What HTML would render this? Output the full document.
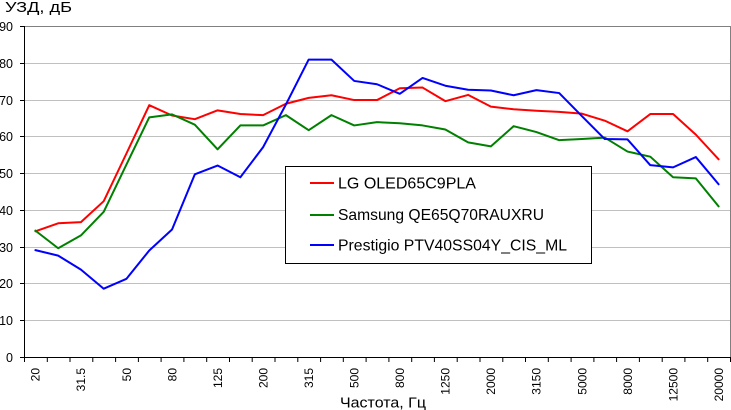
<!DOCTYPE html>
<html>
<head>
<meta charset="utf-8">
<style>
  html, body { margin: 0; padding: 0; background: #ffffff; }
  svg { display: block; }
  text { font-family: "Liberation Sans", "DejaVu Sans", sans-serif; fill: #000; }
</style>
</head>
<body>
<svg width="731" height="410" viewBox="0 0 731 410" xmlns="http://www.w3.org/2000/svg">
  <rect x="0" y="0" width="731" height="410" fill="#ffffff"/>

  <!-- gridlines -->
  <g stroke="#c0c0c0" stroke-width="1" fill="none">
    <line x1="24" y1="63.5" x2="730" y2="63.5"/>
    <line x1="24" y1="100.5" x2="730" y2="100.5"/>
    <line x1="24" y1="136.5" x2="730" y2="136.5"/>
    <line x1="24" y1="173.5" x2="730" y2="173.5"/>
    <line x1="24" y1="210.5" x2="730" y2="210.5"/>
    <line x1="24" y1="247.5" x2="730" y2="247.5"/>
    <line x1="24" y1="283.5" x2="730" y2="283.5"/>
    <line x1="24" y1="320.5" x2="730" y2="320.5"/>
  </g>
  <!-- plot border top/right -->
  <path d="M24 26.5 H730.5 V357.5" stroke="#808080" stroke-width="1" fill="none"/>

  <!-- axes -->
  <g stroke="#000" stroke-width="1" fill="none">
    <line x1="24.5" y1="26" x2="24.5" y2="358"/>
    <line x1="24" y1="357.5" x2="731" y2="357.5"/>
    <!-- y ticks -->
    <path d="M20 26.5H24 M20 63.5H24 M20 100.5H24 M20 136.5H24 M20 173.5H24 M20 210.5H24 M20 247.5H24 M20 283.5H24 M20 320.5H24 M20 357.5H24"/>
    <!-- x ticks -->
    <path d="M24.5 357v5 M47.3 357v5 M70 357v5 M92.8 357v5 M115.6 357v5 M138.4 357v5 M161.1 357v5 M183.9 357v5 M206.7 357v5 M229.5 357v5 M252.2 357v5 M275 357v5 M297.8 357v5 M320.6 357v5 M343.3 357v5 M366.1 357v5 M388.9 357v5 M411.7 357v5 M434.4 357v5 M457.2 357v5 M480 357v5 M502.8 357v5 M525.5 357v5 M548.3 357v5 M571.1 357v5 M593.9 357v5 M616.6 357v5 M639.4 357v5 M662.2 357v5 M684.9 357v5 M707.7 357v5 M730.5 357v5"/>
  </g>

  <!-- y labels -->
  <g font-size="12.5" text-anchor="end">
    <text x="13" y="30.8">90</text>
    <text x="13" y="67.8">80</text>
    <text x="13" y="104.8">70</text>
    <text x="13" y="140.8">60</text>
    <text x="13" y="177.8">50</text>
    <text x="13" y="214.8">40</text>
    <text x="13" y="251.8">30</text>
    <text x="13" y="287.8">20</text>
    <text x="13" y="324.8">10</text>
    <text x="13" y="361.8">0</text>
  </g>

  <!-- x labels -->
  <g font-size="12" text-anchor="end">
    <text transform="translate(39.7,368) rotate(-90)">20</text>
    <text transform="translate(85.2,368) rotate(-90)">31.5</text>
    <text transform="translate(130.8,368) rotate(-90)">50</text>
    <text transform="translate(176.3,368) rotate(-90)">80</text>
    <text transform="translate(221.9,368) rotate(-90)">125</text>
    <text transform="translate(267.4,368) rotate(-90)">200</text>
    <text transform="translate(313,368) rotate(-90)">315</text>
    <text transform="translate(358.5,368) rotate(-90)">500</text>
    <text transform="translate(404.1,368) rotate(-90)">800</text>
    <text transform="translate(449.6,368) rotate(-90)">1250</text>
    <text transform="translate(495.2,368) rotate(-90)">2000</text>
    <text transform="translate(540.7,368) rotate(-90)">3150</text>
    <text transform="translate(586.3,368) rotate(-90)">5000</text>
    <text transform="translate(631.8,368) rotate(-90)">8000</text>
    <text transform="translate(677.4,368) rotate(-90)">12500</text>
    <text transform="translate(722.9,368) rotate(-90)">20000</text>
  </g>

  <!-- titles -->
  <text x="5" y="12" font-size="15" textLength="67" lengthAdjust="spacingAndGlyphs">УЗД, дБ</text>
  <text x="340" y="407.5" font-size="15" textLength="86" lengthAdjust="spacingAndGlyphs">Частота, Гц</text>

  <!-- series -->
  <g transform="matrix(22.774,0,0,-3.6778,35.39,357.5)" fill="none" stroke-width="2" stroke-linejoin="round" stroke-linecap="round">
    <polyline vector-effect="non-scaling-stroke" stroke="#ff0000"
      points="0,34.3 1,36.5 2,36.8 3,42.5 4,55.5 5,68.6 6,65.8 7,64.8 8,67.2 9,66.2 10,65.9 11,69.0 12,70.6 13,71.3 14,70.0 15,70.0 16,73.2 17,73.4 18,69.7 19,71.4 20,68.2 21,67.5 22,67.1 23,66.8 24,66.3 25,64.4 26,61.5 27,66.2 28,66.2 29,60.6 30,53.9"/>
    <polyline vector-effect="non-scaling-stroke" stroke="#008000"
      points="0,34.5 1,29.7 2,33.2 3,39.6 4,52.5 5,65.3 6,66.1 7,63.3 8,56.6 9,63.1 10,63.1 11,65.9 12,61.8 13,65.9 14,63.1 15,64.0 16,63.7 17,63.1 18,62.0 19,58.5 20,57.4 21,62.9 22,61.3 23,59.1 24,59.4 25,59.8 26,56.0 27,54.6 28,49.0 29,48.7 30,41.1"/>
    <polyline vector-effect="non-scaling-stroke" stroke="#0000ff"
      points="0,29.2 1,27.7 2,23.9 3,18.7 4,21.4 5,29.1 6,34.8 7,49.8 8,52.2 9,49.0 10,57.2 11,68.8 12,81.0 13,81.0 14,75.2 15,74.3 16,71.7 17,76.0 18,73.9 19,72.8 20,72.6 21,71.3 22,72.7 23,71.9 24,65.6 25,59.4 26,59.3 27,52.3 28,51.7 29,54.5 30,47.1"/>
  </g>

  <!-- legend -->
  <rect x="285.5" y="166.5" width="306" height="97" fill="#ffffff" stroke="#000" stroke-width="1"/>
  <line x1="310" y1="183" x2="334" y2="183" stroke="#ff0000" stroke-width="2"/>
  <line x1="310" y1="215" x2="334" y2="215" stroke="#008000" stroke-width="2"/>
  <line x1="310" y1="245" x2="334" y2="245" stroke="#0000ff" stroke-width="2"/>
  <g font-size="16">
    <text x="338" y="188.3" textLength="138" lengthAdjust="spacingAndGlyphs">LG OLED65C9PLA</text>
    <text x="338" y="220" textLength="206" lengthAdjust="spacingAndGlyphs">Samsung QE65Q70RAUXRU</text>
    <text x="338" y="250.7" textLength="229" lengthAdjust="spacingAndGlyphs">Prestigio PTV40SS04Y_CIS_ML</text>
  </g>
</svg>
</body>
</html>
